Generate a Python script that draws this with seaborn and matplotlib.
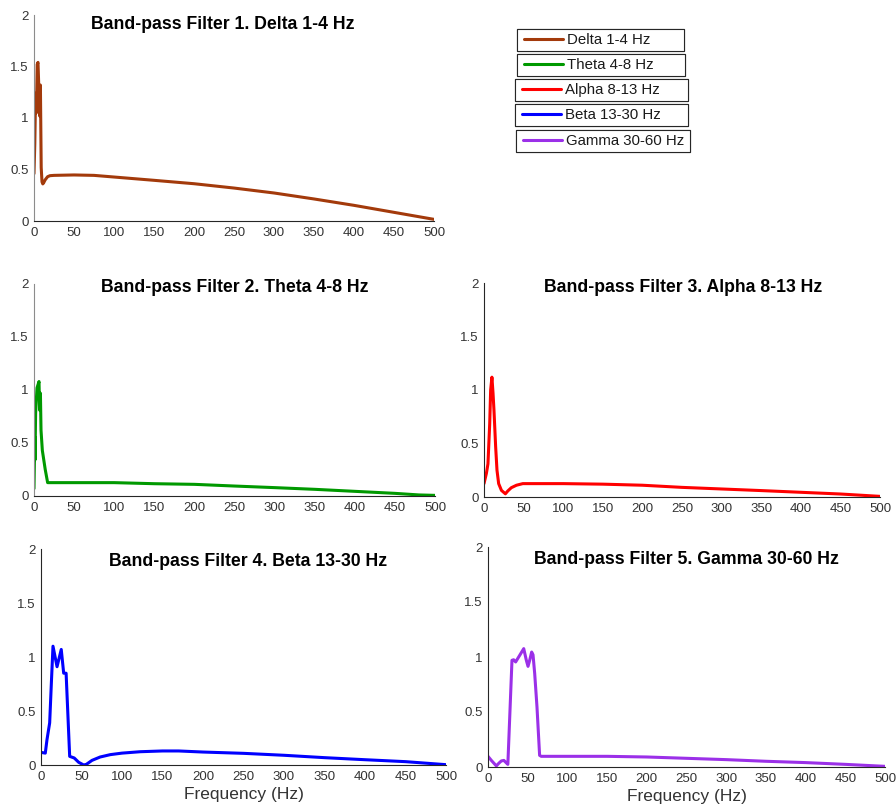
import matplotlib
matplotlib.use("Agg")
import numpy as np
import pandas as pd
import seaborn as sns
import matplotlib.pyplot as plt
from matplotlib.lines import Line2D
from matplotlib.legend_handler import HandlerLine2D

# values (frequency in Hz, magnitude)
delta_hz = [0, 1, 2, 3, 4, 5, 6, 7, 8, 9, 10, 11, 12, 14, 17, 20, 25, 50, 75,
            100, 150, 200, 250, 300, 350, 400, 450, 500]
delta_mag = [0.46, 0.75, 1.24, 1.05, 1.52, 1.54, 1.30, 1.02, 1.32, 0.52, 0.38,
             0.36, 0.37, 0.40, 0.43, 0.44, 0.443, 0.447, 0.443,
             0.427, 0.395, 0.362, 0.32, 0.272, 0.214, 0.152, 0.084, 0.016]

theta_hz = [0, 1, 1.25, 2, 3.75, 5, 6.25, 7, 8, 8.75, 10.4, 14, 17, 50, 100,
            150, 200, 250, 300, 350, 400, 450, 480, 500]
theta_mag = [0.07, 0.56, 0.34, 0.78, 1.02, 1.05, 1.08, 0.81, 0.97, 0.62, 0.43,
             0.25, 0.126, 0.126, 0.126, 0.116, 0.11, 0.094, 0.079, 0.063,
             0.044, 0.025, 0.01, 0.006]

alpha_hz = [0, 3, 5, 7.2, 8.4, 10, 11.4, 12.6, 14.7, 16.4, 18.5, 22, 27, 30,
            34.5, 41, 49, 100, 150, 200, 250, 300, 350, 400, 450, 500]
alpha_mag = [0.125, 0.22, 0.31, 0.685, 1.0, 1.12, 0.97, 0.81, 0.47, 0.25, 0.125,
             0.062, 0.03, 0.056, 0.087, 0.11, 0.125, 0.125, 0.12, 0.11, 0.09,
             0.075, 0.06, 0.044, 0.028, 0.006]

beta_hz = [0, 5.3, 7.4, 10.7, 12.8, 14.8, 19.8, 25, 28, 31, 35.4, 41, 46.5,
           52.7, 56, 63, 73, 85.6, 100, 122.6, 150, 170, 200, 250, 300, 350,
           400, 450, 500]
beta_mag = [0.117, 0.11, 0.235, 0.39, 0.76, 1.10, 0.91, 1.07, 0.85, 0.85, 0.08,
            0.065, 0.025, 0.0, 0.006, 0.043, 0.074, 0.096, 0.11, 0.123, 0.13,
            0.13, 0.12, 0.108, 0.09, 0.068, 0.049, 0.031, 0.003]

gamma_hz = [0, 4.2, 10.5, 13.9, 16.8, 20, 22, 25, 30.2, 32.3, 34.8, 39.9, 45,
            48.3, 50.4, 52.5, 55, 56.7, 58.8, 61.7, 65, 67, 100, 150, 200, 250,
            300, 350, 400, 450, 500]
gamma_mag = [0.097, 0.06, 0.01, 0.036, 0.055, 0.06, 0.045, 0.024, 0.97, 0.975,
             0.955, 1.015, 1.076, 0.97, 0.915, 0.97, 1.045, 1.02, 0.85, 0.545,
             0.106, 0.097, 0.097, 0.097, 0.091, 0.079, 0.067, 0.052, 0.04,
             0.024, 0.006]

titles = ["Band-pass Filter 1. Delta 1-4 Hz", "Band-pass Filter 2. Theta 4-8 Hz",
          "Band-pass Filter 3. Alpha 8-13 Hz", "Band-pass Filter 4. Beta 13-30 Hz",
          "Band-pass Filter 5. Gamma 30-60 Hz"]
band_labels = ["Delta 1-4 Hz", "Theta 4-8 Hz", "Alpha 8-13 Hz",
               "Beta 13-30 Hz", "Gamma 30-60 Hz"]
colors = ["#A33A0B", "#009900", "#FF0000", "#0000FF", "#9B30E8"]
x_ticks = list(range(0, 501, 50))
y_ticks = [0, 0.5, 1, 1.5, 2]
y_ticklabels = ["0", "0.5", "1", "1.5", "2"]

series = [(delta_hz, delta_mag), (theta_hz, theta_mag), (alpha_hz, alpha_mag),
          (beta_hz, beta_mag), (gamma_hz, gamma_mag)]

sns.set_style("white")
plt.rcParams["font.family"] = ["Liberation Sans", "DejaVu Sans"]

W, H = 896, 809
fig = plt.figure(figsize=(W / 100, H / 100), dpi=100)

# axes boxes in pixels: left, top, right, bottom
boxes = [(34, 15, 434, 221), (34, 284, 435, 496), (484, 283, 880, 497),
         (41, 549, 446, 765), (488, 547, 885, 767)]
# title centre x and baseline y in pixels
title_pos = [(223, 29), (234.5, 292), (683, 292), (248, 566), (686.5, 564)]

ink = "#262626"
for i, ((hz, mag), (l, t, r, b)) in enumerate(zip(series, boxes)):
    ax = fig.add_axes([l / W, 1 - b / H, (r - l) / W, (b - t) / H])
    df = pd.DataFrame({"Frequency": hz, "Magnitude": mag})
    sns.lineplot(data=df, x="Frequency", y="Magnitude", ax=ax, color=colors[i],
                 linewidth=2.2, sort=False, estimator=None)
    ax.set_xlim(0, 500)
    ax.set_ylim(0, 2)
    ax.set_xticks(x_ticks)
    ax.set_yticks(y_ticks)
    ax.set_yticklabels(y_ticklabels)
    ax.tick_params(direction="in", length=3, width=0.8, labelsize=9.5,
                   colors=ink, labelcolor="#333333", pad=4)
    ax.spines["top"].set_visible(False)
    ax.spines["right"].set_visible(False)
    for s in ("left", "bottom"):
        ax.spines[s].set_color(ink)
        ax.spines[s].set_linewidth(0.8)
    if i < 2:
        ax.spines["left"].set_color("#8c8c8c")
    ax.set_ylabel("")
    if i >= 3:
        ax.set_xlabel("Frequency (Hz)", fontsize=12.5, color="#333333",
                      labelpad=3.5)
    else:
        ax.set_xlabel("")
    tx, ty = title_pos[i]
    fig.text(tx / W, 1 - ty / H, titles[i], ha="center", va="baseline",
             fontsize=12.7, fontweight="bold", color="black")

# one boxed entry per band, stacked like the original legend
legend_boxes = [(517, 29, 684), (517, 54, 685), (515, 79, 688),
                (515, 104, 688), (516, 130, 690)]
for lab, col, (l, t, r) in zip(band_labels, colors, legend_boxes):
    h = Line2D([], [], color=col, linewidth=2.2)
    leg = fig.legend([h], [lab], loc="upper left",
                     bbox_to_anchor=(l / W, 1 - t / H - 24 / H, (r - l) / W, 24 / H),
                     mode="expand", frameon=True, fancybox=False, framealpha=1,
                     fontsize=10.8, borderpad=0.28, handlelength=2.78,
                     handletextpad=0.27, borderaxespad=0,
                     handler_map={Line2D: HandlerLine2D(xpad=0.18)})
    leg.get_frame().set_edgecolor(ink)
    leg.get_frame().set_linewidth(0.8)
    for txt in leg.get_texts():
        txt.set_color("#1a1a1a")
    fig.add_artist(leg)

fig.savefig("out.png", dpi=100)
